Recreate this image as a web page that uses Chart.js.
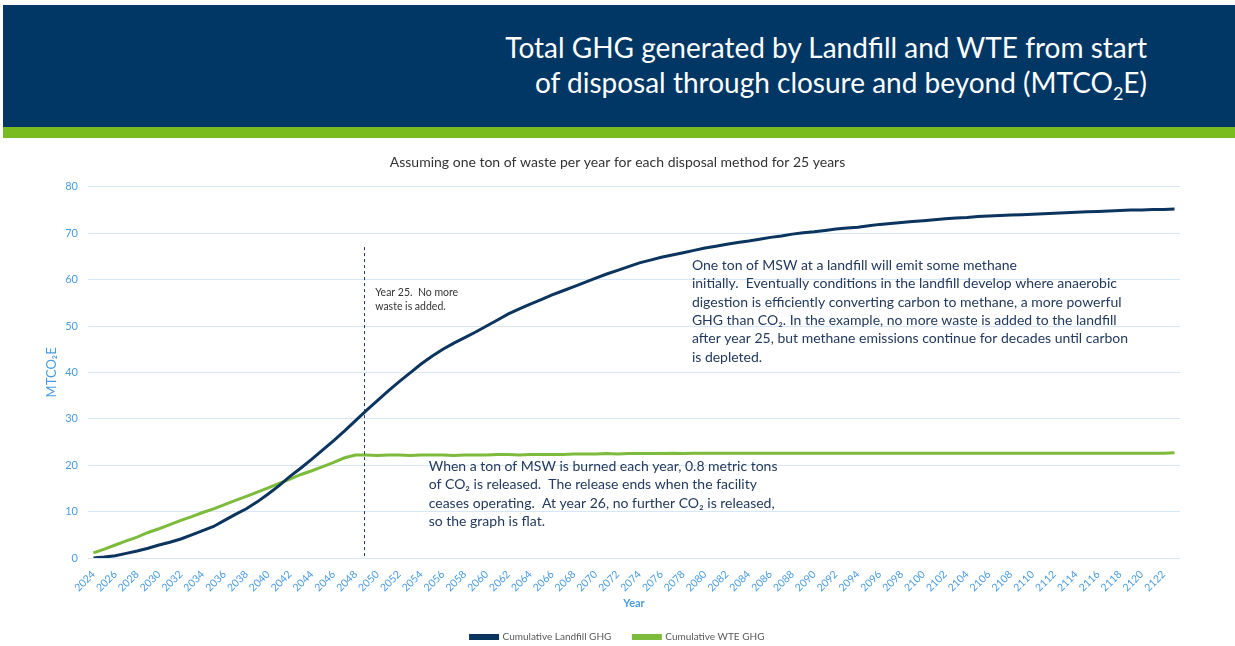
<!DOCTYPE html>
<html>
<head>
<meta charset="utf-8">
<script src="https://cdn.jsdelivr.net/npm/chart.js@4"></script>
<style>
  html, body { margin: 0; padding: 0; background: #fff; overflow: hidden; }
  #banner { position: absolute; left: 3px; top: 5px; width: 1232px; height: 122px; background: #003764; }
  #stripe { position: absolute; left: 3px; top: 127px; width: 1232px; height: 11px; background: #78bc20; }
  #title { position: absolute; right: 88px; top: 30px; color: #fff; font-family: Lato, sans-serif;
           font-size: 28px; line-height: 35px; text-align: right; }
  #wrap { position: absolute; left: 0; top: 140px; width: 1235px; height: 512px; }
</style>
</head>
<body>
<div id="banner"></div>
<div id="stripe"></div>
<div id="title">Total GHG generated by Landfill and WTE from start<br>of disposal through closure and beyond (MTCO<sub style="font-size:18px">2</sub>E)</div>
<div id="wrap"><canvas id="chart"></canvas></div>
<script>
// years 2024 .. 2123
const years = Array.from({length: 100}, (_, i) => String(2024 + i));

const landfill = [
  0, 0.2, 0.5, 1.0, 1.5, 2.1, 2.8, 3.4, 4.1, 5.0,
  5.9, 6.8, 8.1, 9.4, 10.6, 12.1, 13.8, 15.6, 17.6, 19.4,
  21.3, 23.3, 25.3, 27.4, 29.6, 31.8, 33.9, 36.0, 38.0, 39.9,
  41.8, 43.5, 45.0, 46.3, 47.5, 48.7, 50.0, 51.3, 52.6, 53.7,
  54.7, 55.7, 56.7, 57.6, 58.5, 59.4, 60.3, 61.2, 62.0, 62.8,
  63.6, 64.2, 64.8, 65.3, 65.8, 66.3, 66.8, 67.2, 67.6, 68.0,
  68.3, 68.7, 69.1, 69.4, 69.8, 70.1, 70.3, 70.6, 70.9, 71.1,
  71.3, 71.6, 71.9, 72.1, 72.3, 72.5, 72.7, 72.9, 73.1, 73.3,
  73.4, 73.6, 73.7, 73.8, 73.9, 74.0, 74.1, 74.2, 74.3, 74.4,
  74.5, 74.6, 74.7, 74.8, 74.9, 75.0, 75.0, 75.1, 75.1, 75.2
];

const wte = [
  1.1, 1.9, 2.8, 3.7, 4.5, 5.5, 6.3, 7.2, 8.1, 8.9,
  9.8, 10.6, 11.5, 12.4, 13.3, 14.2, 15.1, 16.1, 17.0, 18.0,
  18.8, 19.7, 20.6, 21.6, 22.2, 22.2, 22.1, 22.2, 22.2, 22.1,
  22.2, 22.2, 22.2, 22.1, 22.2, 22.2, 22.2, 22.3, 22.3, 22.2,
  22.3, 22.3, 22.3, 22.3, 22.4, 22.4, 22.4, 22.5, 22.4, 22.5,
  22.5, 22.5, 22.5, 22.6, 22.5, 22.6, 22.6, 22.6, 22.6, 22.6,
  22.6, 22.6, 22.6, 22.6, 22.6, 22.6, 22.6, 22.6, 22.6, 22.6,
  22.6, 22.6, 22.6, 22.6, 22.6, 22.6, 22.6, 22.6, 22.6, 22.6,
  22.6, 22.6, 22.6, 22.6, 22.6, 22.6, 22.6, 22.6, 22.6, 22.6,
  22.6, 22.6, 22.6, 22.6, 22.6, 22.6, 22.6, 22.6, 22.6, 22.7
];

const subtitle = 'Assuming one ton of waste per year for each disposal method for 25 years';

// closure marker (category index) and notes
const closureIndex = 24.8;
const markerTop = 67;

const notes = [
  { at: [25.8, 57.3], size: 10.5, lh: 14.5, color: '#333333',
    lines: ['Year 25.  No more', 'waste is added.'] },
  { at: [54.8, 63.1], size: 14, lh: 18.4, color: '#23395d',
    lines: ['One ton of MSW at a landfill will emit some methane',
            'initially.  Eventually conditions in the landfill develop where anaerobic',
            'digestion is efficiently converting carbon to methane, a more powerful',
            'GHG than CO\u2082. In the example, no more waste is added to the landfill',
            'after year 25, but methane emissions continue for decades until carbon',
            'is depleted.'] },
  { at: [30.7, 19.8], size: 14, lh: 18.5, color: '#23395d',
    lines: ['When a ton of MSW is burned each year, 0.8 metric tons',
            'of CO\u2082 is released.  The release ends when the facility',
            'ceases operating.  At year 26, no further CO\u2082 is released,',
            'so the graph is flat.'] }
];

const notesPlugin = {
  id: 'notes',
  afterDatasetsDraw(chart) {
    const ctx = chart.ctx;
    const x = chart.scales.x, y = chart.scales.y;
    ctx.save();
    ctx.strokeStyle = '#1f3864';
    ctx.lineWidth = 1;
    ctx.setLineDash([3, 3]);
    const mx = Math.round(x.getPixelForValue(closureIndex)) + 0.5;
    ctx.beginPath();
    ctx.moveTo(mx, y.getPixelForValue(markerTop));
    ctx.lineTo(mx, chart.chartArea.bottom);
    ctx.stroke();
    ctx.setLineDash([]);
    ctx.textBaseline = 'middle';
    notes.forEach(n => {
      ctx.font = n.size + 'px Lato';
      ctx.fillStyle = n.color;
      const px = x.getPixelForValue(n.at[0]);
      const py = y.getPixelForValue(n.at[1]);
      n.lines.forEach((t, i) => ctx.fillText(t, px, py + i * n.lh));
    });
    ctx.restore();
  }
};

const blue = '#4a9be0';
Chart.defaults.font.family = 'Lato';

new Chart(document.getElementById('chart'), {
  type: 'line',
  data: {
    labels: years,
    datasets: [
      { label: 'Cumulative Landfill GHG', data: landfill, borderColor: '#0b355e',
        backgroundColor: '#0b355e', borderWidth: 3, pointRadius: 0, tension: 0 },
      { label: 'Cumulative WTE GHG', data: wte, borderColor: '#7dbb3c',
        backgroundColor: '#7dbb3c', borderWidth: 3, pointRadius: 0, tension: 0 }
    ]
  },
  options: {
    responsive: true,
    maintainAspectRatio: false,
    animation: false,
    layout: { padding: 0 },
    plugins: {
      title: { display: true, text: subtitle, color: '#333333',
               font: { size: 14, weight: 'normal' }, padding: { top: 14, bottom: 16 } },
      legend: { position: 'bottom',
                labels: { boxWidth: 27, boxHeight: 3, color: '#595959', font: { size: 10 }, padding: 22 } },
      tooltip: { enabled: false }
    },
    scales: {
      x: {
        offset: true,
        grid: { display: false },
        border: { display: false },
        ticks: { color: blue, font: { size: 10.5 }, autoSkip: false, maxRotation: 45, minRotation: 45, padding: 2,
                 callback: function (v, i) { return i % 2 === 0 ? this.getLabelForValue(v) : ''; } },
        title: { display: true, text: 'Year', color: blue, font: { size: 11, weight: 'bold' },
                 padding: { top: 0, bottom: 0 } },
        afterFit: s => { s.height = 52; }
      },
      y: {
        min: 0, max: 80,
        grid: { color: '#d6e7f7', drawTicks: false },
        border: { display: false },
        ticks: { stepSize: 10, color: blue, font: { size: 11 }, padding: 10 },
        title: { display: true, text: 'MTCO\u2082E', color: blue, font: { size: 13 },
                 padding: { top: 44 } },
        afterFit: s => { s.width = 88; }
      },
      // empty right-hand margin so the legend and subtitle centre on the page
      side: {
        position: 'right',
        grid: { display: false },
        border: { display: false },
        ticks: { display: false },
        afterFit: s => { s.width = 55; }
      }
    }
  },
  plugins: [notesPlugin]
});
</script>
</body>
</html>
